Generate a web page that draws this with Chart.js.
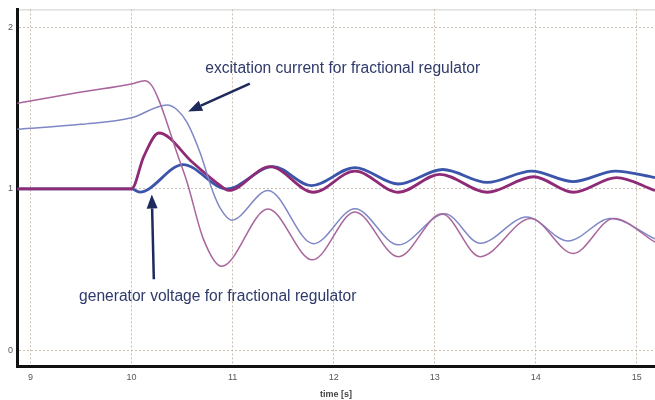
<!DOCTYPE html>
<html lang="en">
<head>
<meta charset="UTF-8">
<title>Excitation current and generator voltage</title>
<script src="https://cdn.jsdelivr.net/npm/chart.js"></script>
<style>
  html, body { margin: 0; padding: 0; background: #fff; }
  #wrap { width: 655px; height: 400px; position: relative; }
</style>
</head>
<body>
<div id="wrap"><canvas id="myChart"></canvas></div>
<script>
// excitation current, integer-order regulator (thin magenta)
const iIntT = [8.87, 9.5, 10.0, 10.13, 10.2, 10.27, 10.35, 10.45, 10.55, 10.71, 10.89, 11.35, 11.79, 12.21, 12.64, 13.07, 13.45, 13.95, 14.37, 14.77, 15.18];
const iIntV = [1.53, 1.60, 1.65, 1.67, 1.64, 1.55, 1.41, 1.22, 1.04, 0.69, 0.52, 0.875, 0.56, 0.857, 0.58, 0.846, 0.58, 0.816, 0.60, 0.816, 0.67];

// excitation current, fractional regulator (thin blue)
const iFracT = [8.87, 9.5, 10.0, 10.35, 10.45, 10.55, 10.68, 10.8, 10.88, 10.99, 11.35, 11.8, 12.21, 12.64, 13.1, 13.45, 13.91, 14.32, 14.74, 15.18];
const iFracV = [1.37, 1.40, 1.44, 1.52, 1.49, 1.41, 1.22, 0.99, 0.877, 0.806, 0.99, 0.66, 0.877, 0.653, 0.846, 0.663, 0.826, 0.677, 0.816, 0.69];

// generator voltage, integer-order regulator (thick magenta)
const uIntT = [8.87, 10.0, 10.12, 10.27, 10.61, 10.88, 10.96, 11.37, 11.8, 12.21, 12.64, 13.05, 13.52, 13.98, 14.37, 14.8, 15.18];
const uIntV = [1.0, 1.0, 1.2, 1.346, 1.16, 1.02, 0.99, 1.138, 0.979, 1.11, 0.979, 1.09, 0.979, 1.075, 0.979, 1.07, 0.99];

// generator voltage, fractional regulator (thick blue)
const uFracT = [8.87, 10.0, 10.08, 10.51, 10.94, 11.4, 11.78, 12.21, 12.64, 13.08, 13.52, 13.96, 14.37, 14.79, 15.18];
const uFracV = [1.0, 1.0, 0.98, 1.15, 1.0, 1.138, 1.02, 1.132, 1.03, 1.12, 1.04, 1.11, 1.045, 1.11, 1.07];

const xTicks = [9, 10, 11, 12, 13, 14, 15];
const yTicks = [0, 1, 2];

const toPts = (t, v) => t.map((x, i) => ({ x: x, y: v[i] }));

// text and arrows, in data units
const notes = [
  { text: 'excitation current for fractional regulator', x: 10.73, y: 1.745, from: [11.17, 1.652], to: [10.56, 1.48] },
  { text: 'generator voltage for fractional regulator', x: 9.48, y: 0.332, from: [10.22, 0.44], to: [10.2, 0.965] }
];

const notesPlugin = {
  id: 'notes',
  beforeDraw(chart) {
    const { ctx, chartArea: a } = chart;
    ctx.save();
    ctx.strokeStyle = '#cfcfcf';
    ctx.lineWidth = 1;
    ctx.beginPath();
    ctx.moveTo(a.left, a.top + 0.5);
    ctx.lineTo(a.right, a.top + 0.5);
    ctx.stroke();
    ctx.restore();
  },
  afterDatasetsDraw(chart) {
    const { ctx, scales: { x, y } } = chart;
    ctx.save();
    notes.forEach(n => {
      ctx.fillStyle = '#2f3a6b';
      ctx.font = '15.6px "Liberation Sans", Arial, sans-serif';
      ctx.textAlign = 'left';
      ctx.textBaseline = 'middle';
      ctx.fillText(n.text, x.getPixelForValue(n.x), y.getPixelForValue(n.y));

      const x1 = x.getPixelForValue(n.from[0]), y1 = y.getPixelForValue(n.from[1]);
      const x2 = x.getPixelForValue(n.to[0]), y2 = y.getPixelForValue(n.to[1]);
      const ang = Math.atan2(y2 - y1, x2 - x1);
      const len = 14, half = 5.5;
      const bx = x2 - len * Math.cos(ang), by = y2 - len * Math.sin(ang);
      ctx.strokeStyle = '#1f2a5c';
      ctx.fillStyle = '#1f2a5c';
      ctx.lineWidth = 2.5;
      ctx.beginPath();
      ctx.moveTo(x1, y1);
      ctx.lineTo(bx, by);
      ctx.stroke();
      ctx.beginPath();
      ctx.moveTo(x2, y2);
      ctx.lineTo(bx + half * Math.sin(ang), by - half * Math.cos(ang));
      ctx.lineTo(bx - half * Math.sin(ang), by + half * Math.cos(ang));
      ctx.closePath();
      ctx.fill();
    });
    ctx.restore();
  }
};

const line = (data, color, width) => ({
  data: data,
  borderColor: color,
  borderWidth: width,
  pointRadius: 0,
  fill: false,
  cubicInterpolationMode: 'monotone'
});

const ctx = document.getElementById('myChart').getContext('2d');
const myChart = new Chart(ctx, {
  type: 'line',
  data: {
    datasets: [
      line(toPts(iIntT, iIntV), '#a8669c', 1.5),
      line(toPts(iFracT, iFracV), '#7f87c6', 1.5),
      line(toPts(uIntT, uIntV), '#8e2a76', 2.8),
      line(toPts(uFracT, uFracV), '#3b55aa', 2.8)
    ]
  },
  options: {
    responsive: true,
    maintainAspectRatio: false,
    animation: false,
    layout: { padding: { top: 5, right: 0, left: 0, bottom: 0 } },
    plugins: { legend: { display: false }, tooltip: { enabled: false } },
    scales: {
      x: {
        type: 'linear',
        min: 8.866,
        max: 15.18,
        afterBuildTicks: s => { s.ticks = xTicks.map(v => ({ value: v })); },
        afterFit: s => { s.height = 33.3; },
        grid: { color: '#cbbfb4', lineWidth: 1, drawTicks: false },
        border: { color: '#111', width: 3, dash: [2, 2] },
        ticks: { padding: 5, color: '#555', font: { size: 9, family: 'Liberation Sans' } },
        title: {
          display: true,
          text: 'time [s]',
          color: '#444',
          padding: { top: 1, bottom: 0 },
          font: { size: 9, weight: 'bold', family: 'Liberation Sans' }
        }
      },
      y: {
        min: -0.102,
        max: 2.112,
        afterBuildTicks: s => { s.ticks = yTicks.map(v => ({ value: v })); },
        afterFit: s => { s.width = 17; },
        grid: { color: '#cbbfb4', lineWidth: 1, drawTicks: false },
        border: { color: '#111', width: 3, dash: [2, 2] },
        ticks: { padding: 4, color: '#555', font: { size: 9, family: 'Liberation Sans' } }
      }
    }
  },
  plugins: [notesPlugin]
});
</script>
</body>
</html>
